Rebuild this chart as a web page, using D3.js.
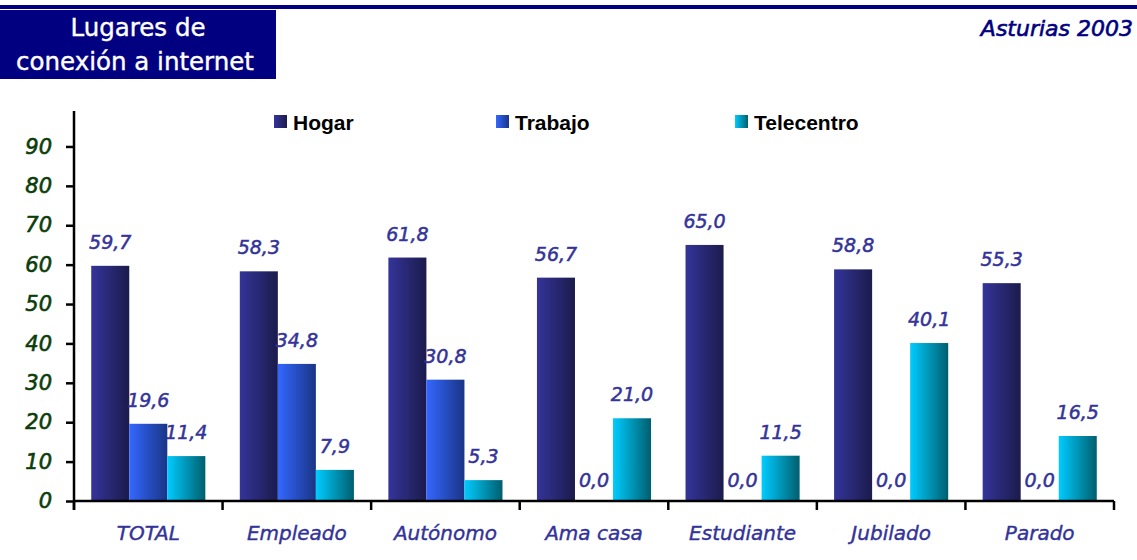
<!DOCTYPE html>
<html>
<head>
<meta charset="utf-8">
<script src="https://cdn.jsdelivr.net/npm/d3@7"></script>
<style>
  body { margin: 0; background: #fff; }
  svg { display: block; }
  .ytick text { font-family: "DejaVu Sans", sans-serif; font-style: italic; font-size: 21px; fill: #0b3d0b; stroke: #0b3d0b; stroke-width: 0.6px; }
  .xtick text { font-family: "DejaVu Sans", sans-serif; font-style: italic; font-size: 20px; fill: #333399; stroke: #333399; stroke-width: 0.4px; }
  .val { font-family: "DejaVu Sans", sans-serif; font-style: italic; font-size: 19px; fill: #333399; stroke: #333399; stroke-width: 0.5px; }
  .legend text { font-family: "Liberation Sans", Arial, sans-serif; font-weight: bold; font-size: 21px; fill: #000; }
</style>
</head>
<body>
<svg width="1137" height="560"></svg>
<script>
// data
var categories = ["TOTAL", "Empleado", "Autónomo", "Ama casa", "Estudiante", "Jubilado", "Parado"];
var seriesNames = ["Hogar", "Trabajo", "Telecentro"];
var hogar = [59.7, 58.3, 61.8, 56.7, 65.0, 58.8, 55.3];
var trabajo = [19.6, 34.8, 30.8, 0.0, 0.0, 0.0, 0.0];
var telecentro = [11.4, 7.9, 5.3, 21.0, 11.5, 40.1, 16.5];
var yTicks = [0, 10, 20, 30, 40, 50, 60, 70, 80, 90];

var seriesValues = [hogar, trabajo, telecentro];
var grads = [["#34349a", "#1b1b4c"], ["#3367ff", "#1a3585"], ["#00ccff", "#005e6e"]];

var svg = d3.select("svg");
var defs = svg.append("defs");
grads.forEach(function(g, i) {
  var lg = defs.append("linearGradient").attr("id", "g" + i)
    .attr("x1", "0%").attr("x2", "100%").attr("y1", "0%").attr("y2", "0%");
  lg.append("stop").attr("offset", "0%").attr("stop-color", g[0]);
  lg.append("stop").attr("offset", "100%").attr("stop-color", g[1]);
});

// header
svg.append("rect").attr("x", 0).attr("y", 5).attr("width", 1137).attr("height", 4).attr("fill", "#000080");
svg.append("rect").attr("x", 0).attr("y", 10).attr("width", 276).attr("height", 69).attr("fill", "#000080");
var titleStyle = function(t) {
  t.attr("text-anchor", "middle")
    .style("font-family", "'DejaVu Sans', sans-serif").style("font-size", "24.5px")
    .attr("fill", "#fff").attr("stroke", "#fff").attr("stroke-width", 0.4);
};
svg.append("text").attr("x", 138).attr("y", 36).call(titleStyle).text("Lugares de");
svg.append("text").attr("x", 135).attr("y", 70).call(titleStyle).text("conexión a internet");
svg.append("text").attr("x", 1133).attr("y", 36).attr("text-anchor", "end")
  .style("font-family", "'DejaVu Sans', sans-serif").style("font-style", "italic").style("font-size", "22px")
  .attr("fill", "#000080").attr("stroke", "#000080").attr("stroke-width", 0.6)
  .text("Asturias 2003");

var x0 = d3.scaleBand().domain(categories).range([74, 1114]).padding(0);
var bw = x0.bandwidth();
var x1 = d3.scaleBand().domain(seriesNames).range([bw * 0.116, bw * 0.884]).padding(0);
var y = d3.scaleLinear().domain([0, 99]).range([501, 111]);

var fmt = function(v) { return d3.format(".1f")(v).replace(".", ","); };

// bars
var groups = svg.append("g").selectAll("g").data(categories).join("g")
  .attr("transform", function(d) { return "translate(" + x0(d) + ",0)"; });

groups.each(function(cat, ci) {
  var g = d3.select(this);
  var rows = seriesNames.map(function(s, si) { return { s: s, si: si, v: seriesValues[si][ci] }; });
  g.selectAll("rect").data(rows).join("rect")
    .attr("x", function(d) { return x1(d.s); })
    .attr("width", x1.bandwidth())
    .attr("y", function(d) { return y(d.v); })
    .attr("height", function(d) { return y(0) - y(d.v); })
    .attr("fill", function(d) { return "url(#g" + d.si + ")"; });
  g.selectAll("text").data(rows).join("text")
    .attr("class", "val")
    .attr("x", function(d) { return x1(d.s) + x1.bandwidth() / 2; })
    .attr("y", function(d) { return y(d.v) - (d.v === 0 ? 14 : 17); })
    .attr("text-anchor", "middle")
    .text(function(d) { return fmt(d.v); });
});

// y axis
var yAxis = svg.append("g").attr("class", "ytick")
  .attr("transform", "translate(74,0)")
  .call(d3.axisLeft(y).tickValues(yTicks).tickSize(8).tickPadding(14).tickFormat(d3.format("d")));
yAxis.select(".domain").remove();
yAxis.selectAll("line").attr("stroke", "#000").attr("stroke-width", 2.5);
svg.append("line").attr("x1", 74).attr("x2", 74).attr("y1", y(99)).attr("y2", 510)
  .attr("stroke", "#000").attr("stroke-width", 2.5);

// x axis
var xAxis = svg.append("g").attr("class", "xtick")
  .attr("transform", "translate(0,501)")
  .call(d3.axisBottom(x0).tickSize(0).tickPadding(25));
xAxis.select(".domain").remove();
xAxis.selectAll("text").attr("dy", "0.71em");
svg.append("line").attr("x1", 74).attr("x2", 1114).attr("y1", 501).attr("y2", 501)
  .attr("stroke", "#000").attr("stroke-width", 2.5);
var bounds = categories.map(function(c) { return x0(c); }).concat([x0.range()[1]]);
svg.append("g").selectAll("line").data(bounds).join("line")
  .attr("x1", function(d) { return d; }).attr("x2", function(d) { return d; })
  .attr("y1", 501).attr("y2", 510)
  .attr("stroke", "#000").attr("stroke-width", 2.5);

// legend
var lx = d3.scalePoint().domain(seriesNames).range([274, 735]);
var lg = svg.append("g").attr("class", "legend").selectAll("g").data(seriesNames).join("g")
  .attr("transform", function(d, i) { return "translate(" + (i === 1 ? 496 : lx(d)) + ",115)"; });
lg.append("rect").attr("width", 13).attr("height", 13)
  .attr("fill", function(d, i) { return "url(#g" + i + ")"; });
lg.append("text").attr("x", 19).attr("y", 14.5).text(function(d) { return d; });
</script>
</body>
</html>
